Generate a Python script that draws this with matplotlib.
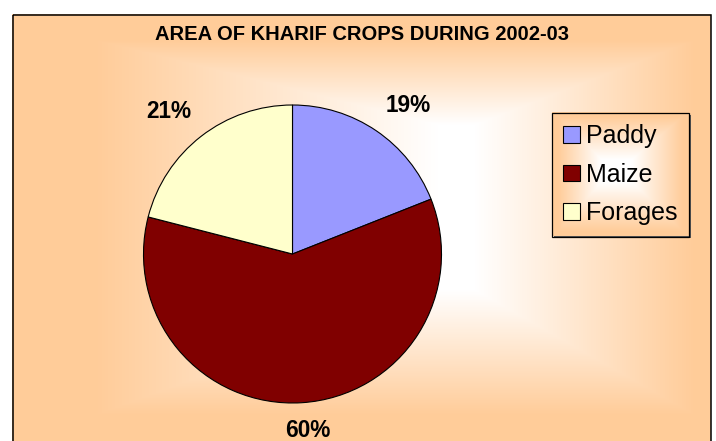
import numpy as np
import matplotlib
matplotlib.use("Agg")
import matplotlib.pyplot as plt
from matplotlib.patches import Rectangle

plt.rcParams['font.family'] = ['Liberation Sans', 'DejaVu Sans']

# ---- data ----
title = "AREA OF KHARIF CROPS DURING 2002-03"
categories = ["Paddy", "Maize", "Forages"]
values = [19, 60, 21]
colors = ["#9999FF", "#800000", "#FFFFCC"]

W, H = 716, 441
fig = plt.figure(figsize=(W / 100, H / 100), dpi=100, facecolor="white")

white = np.array([1.0, 1.0, 1.0])
orange = np.array([255, 204, 153]) / 255.0


def rect_gradient(X, Y, core, outer):
    """From-centre rectangular gradient: white inside core, orange outside outer."""
    x0, x1, y0, y1 = core
    ox0, ox1, oy0, oy1 = outer
    tx = np.where(X < x0, (x0 - X) / (x0 - ox0), np.where(X > x1, (X - x1) / (ox1 - x1), 0.0))
    ty = np.where(Y < y0, (y0 - Y) / (y0 - oy0), np.where(Y > y1, (Y - y1) / (oy1 - y1), 0.0))
    t = np.clip(np.maximum(tx, ty), 0, 1)
    return white[None, None, :] * (1 - t[..., None]) + orange[None, None, :] * t[..., None]


# ---- background (gradient chart area) ----
bg = fig.add_axes([0, 0, 1, 1], zorder=0)
bg.set_xlim(0, W)
bg.set_ylim(H, 0)
bg.axis("off")
xs = np.arange(W) + 0.5
ys = np.arange(H) + 0.5
X, Y = np.meshgrid(xs, ys)
img = rect_gradient(X, Y, (438, 475, 125, 290), (95, 695, 40, 415))
inside = (X >= 12) & (X <= 711) & (Y >= 14)
img[~inside] = 1.0
bg.imshow(img, extent=(0, W, H, 0), interpolation="bilinear", aspect="auto", zorder=0)
bg.add_patch(Rectangle((12.5, 14.5), 698.5, 440, fill=False, edgecolor="black",
                       linewidth=1.1, zorder=5))
bg.text(362, 35, title, ha="center", va="center", fontsize=14.5, fontweight="bold",
        color="black", zorder=6)

# ---- pie ----
pcx, pcy, r = 292.5, 254.0, 149.0
ax = fig.add_axes([(pcx - r) / W, (H - pcy - r) / H, 2 * r / W, 2 * r / H], zorder=1)
ax.set_facecolor("none")
wedges, _ = ax.pie(values, colors=colors, startangle=90, counterclock=False,
                   radius=1.0, wedgeprops=dict(edgecolor="black", linewidth=0.8))
ax.set_xlim(-1, 1)
ax.set_ylim(-1, 1)
ax.set_aspect("equal")
ax.axis("off")

total = sum(values)
for w, v in zip(wedges, values):
    ang = np.deg2rad((w.theta1 + w.theta2) / 2)
    c, s = np.cos(ang), np.sin(ang)
    d = 1.11
    ha = "left" if c > 0.3 else ("right" if c < -0.3 else "center")
    va = "bottom" if s > 0.3 else ("top" if s < -0.3 else "center")
    ax.text(d * c + (0.03 if ha == "center" else 0), d * s, f"{round(100 * v / total)}%",
            ha=ha, va=va, fontsize=16.3, fontweight="bold", clip_on=False)

leg = ax.legend(wedges, categories, loc="upper left",
                bbox_to_anchor=(552 / W, 1 - 113 / H), bbox_transform=fig.transFigure,
                borderaxespad=0, fontsize=18, handlelength=0.66, handleheight=0.66,
                handletextpad=0.27, labelspacing=0.58, borderpad=0.45,
                fancybox=False, framealpha=1, edgecolor="black")
leg.get_frame().set_facecolor("none")
leg.get_frame().set_linewidth(0.9)

# legend box has its own from-centre gradient fill and a thin shadow
fig.canvas.draw()
bb = leg.get_frame().get_window_extent()
lx0, lx1 = bb.x0, bb.x1
ly0, ly1 = H - bb.y1, H - bb.y0
bg.add_patch(Rectangle((lx0 + 1.5, ly0 + 1.5), lx1 - lx0, ly1 - ly0,
                       facecolor="#555555", edgecolor="none", zorder=2))
gx = np.arange(int(lx0), int(np.ceil(lx1))) + 0.5
gy = np.arange(int(ly0), int(np.ceil(ly1))) + 0.5
GX, GY = np.meshgrid(gx, gy)
lcx, lcy = lx0 + 0.45 * (lx1 - lx0), (ly0 + ly1) / 2
limg = rect_gradient(GX, GY, (lcx - 12, lcx + 18, lcy - 14, lcy + 8),
                     (lx0 + 6, lx1 - 6, ly0 + 4, ly1 - 4))
bg.imshow(limg, extent=(lx0, lx1, ly1, ly0), interpolation="bilinear", aspect="auto",
          zorder=3)
bg.set_xlim(0, W)
bg.set_ylim(H, 0)

fig.savefig("out.png", dpi=100, facecolor="white")
